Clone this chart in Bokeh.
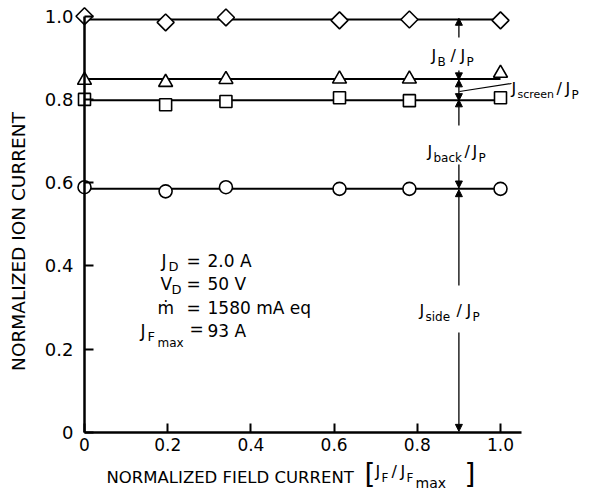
import numpy as np
from bokeh.plotting import figure
from bokeh.models import Label, Arrow, NormalHead, FixedTicker, Range1d
from bokeh.embed import file_html
from bokeh.resources import INLINE

# ---- data ----
field_current = [0.0, 0.195, 0.34, 0.613, 0.781, 1.0]
total_ion = [1.0, 0.985, 0.997, 0.99, 0.992, 0.99]          # diamonds
side_back_screen = [0.846, 0.841, 0.848, 0.849, 0.849, 0.863]  # triangles
side_back = [0.80, 0.787, 0.795, 0.804, 0.797, 0.804]        # squares
side_only = [0.589, 0.579, 0.589, 0.585, 0.585, 0.585]       # circles
tick_values = [0.0, 0.2, 0.4, 0.6, 0.8, 1.0]
tick_labels = ["0", "0.2", "0.4", "0.6", "0.8", "1.0"]

FONT = "DejaVu Sans"
W, H = 590, 495
X0, SX, Y0, SY = 84.0, 416.0, 431.7, 416.0   # page position of the origin, px per unit

p = figure(width=W, height=H, output_backend="svg", toolbar_location=None,
           x_range=Range1d(-X0 / SX, (W - X0) / SX),
           y_range=Range1d((Y0 - H) / SY, Y0 / SY),
           min_border_left=0, min_border_right=0, min_border_top=0, min_border_bottom=0)
p.outline_line_color = None
p.xgrid.visible = False
p.ygrid.visible = False
p.background_fill_color = "white"

for ax, bnd in ((p.xaxis[0], (0, 1.05)), (p.yaxis[0], (0, 1.0))):
    ax.fixed_location = 0
    ax.bounds = bnd
    ax.ticker = FixedTicker(ticks=tick_values)
    ax.major_label_overrides = dict(zip(tick_values, tick_labels))
    ax.axis_line_width = 2.5
    ax.axis_line_color = "black"
    ax.major_tick_in = 9
    ax.major_tick_out = 0
    ax.major_tick_line_width = 2
    ax.major_tick_line_color = "black"
    ax.minor_tick_line_color = None
    ax.major_label_text_font = FONT
    ax.major_label_text_color = "black"
p.xaxis.major_label_text_font_size = "17px"
p.yaxis.major_label_text_font_size = "18px"
p.xaxis.major_label_standoff = 6
p.yaxis.major_label_standoff = 11

series = [
    (total_ion, dict(marker="square", size=12, angle=np.pi / 4)),
    (side_back_screen, dict(marker="triangle", size=14)),
    (side_back, dict(marker="square", size=12)),
    (side_only, dict(marker="circle", size=13)),
]
xs = np.array(field_current)
for vals, style in series:
    m = float(np.mean(vals))
    p.line([xs.min(), xs.max()], [m, m], line_color="black", line_width=2)
for vals, style in series:
    p.scatter(field_current, vals, fill_color="white", line_color="black",
              line_width=1.6, **style)

# ---- annotation helpers (page pixels -> data) ----
def px(xp):
    return (xp - X0) / SX
def py(yp):
    return (Y0 - yp) / SY

def txt(xp, yp, s, size=17, align="left", angle=0.0):
    p.add_layout(Label(x=px(xp), y=py(yp), text=s, text_font=FONT,
                       text_font_size=f"{size}px", text_align=align,
                       text_baseline="middle", angle=angle, text_color="black"))

XA = 0.9
def arrow(y0, y1, both=False):
    kw = dict(x_start=XA, y_start=y0, x_end=XA, y_end=y1, line_width=1.3,
              line_color="black", end=NormalHead(size=7, fill_color="black", line_color="black"))
    if both:
        kw["start"] = NormalHead(size=7, fill_color="black", line_color="black")
    p.add_layout(Arrow(**kw))

arrow(py(37), 0.995)
arrow(py(70), 0.847)
arrow(0.797, 0.847, both=True)
arrow(py(125), 0.799)
arrow(py(164), 0.587)
arrow(py(285), 0.583)
arrow(py(332), 0.002)

# leader for J_screen
p.segment(x0=[px(459)], y0=[py(91)], x1=[px(511)], y1=[py(83)], line_color="black", line_width=1.2)

# J_B / J_P
txt(431, 55, "J", 16); txt(437, 61, "B", 12); txt(450, 55, "/", 16); txt(460, 55, "J", 16); txt(466, 61, "P", 12)
# J_screen / J_P
txt(511, 88, "J", 16); txt(517, 94, "screen", 11); txt(556, 88, "/", 16); txt(565, 88, "J", 16); txt(571, 94, "P", 12)
# J_back / J_P
txt(427, 151, "J", 16); txt(433, 157, "back", 12); txt(464, 151, "/", 16); txt(472, 151, "J", 16); txt(478, 157, "P", 12)
# J_side / J_P
txt(419, 310, "J", 16); txt(425, 316, "side", 12); txt(456, 310, "/", 16); txt(466, 310, "J", 16); txt(472, 316, "P", 12)

# operating conditions
txt(161, 260, "J", 17); txt(168, 266, "D", 13); txt(186, 260, "=", 17); txt(207, 260, "2.0 A", 17)
txt(160, 283, "V", 17); txt(171, 289, "D", 13); txt(186, 283, "=", 17); txt(207, 283, "50 V", 17)
txt(157, 307, "ṁ", 17); txt(186, 307, "=", 17); txt(207, 307, "1580 mA eq", 17)
txt(140, 330, "J", 17); txt(147, 336, "F", 13); txt(157, 342, "max", 12); txt(189, 328, "=", 17); txt(207, 330, "93 A", 17)

# axis titles
txt(18, 241, "NORMALIZED ION CURRENT", 18.5, "center", np.pi / 2)
txt(106, 477, "NORMALIZED FIELD CURRENT", 16.5)
txt(364, 474, "[", 28); txt(375, 471, "J", 16); txt(381, 477, "F", 12); txt(391, 471, "/", 16)
txt(400, 471, "J", 16); txt(406, 477, "F", 12); txt(415, 482, "max", 14); txt(464, 474, "]", 28)

open("out.html", "w").write(file_html(p, INLINE))
